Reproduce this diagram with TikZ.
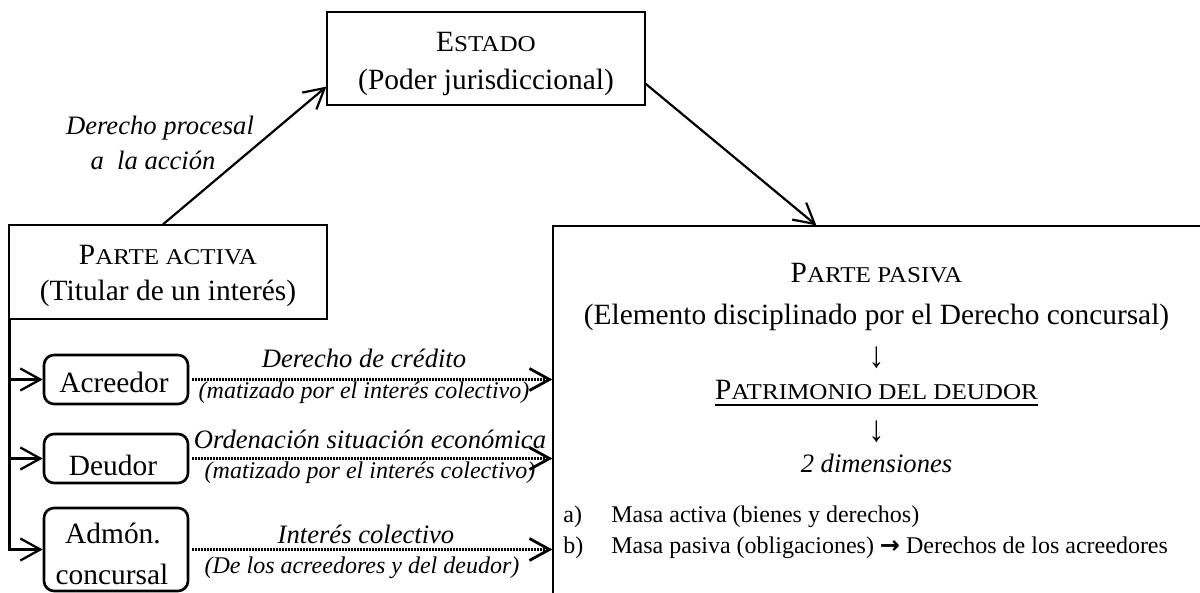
\documentclass[tikz,border=0pt]{standalone}
\usepackage{fontspec}
\usepackage{graphicx}
\setmainfont{Liberation Serif}
\newfontfamily\djv{DejaVu Sans}
\usetikzlibrary{arrows.meta,calc}
\newcommand\fsc[1]{\scalebox{1.11}[1]{\fontsize{11.3pt}{11.3pt}\selectfont #1}}
\newcommand\mainsz{\fontsize{14.7pt}{17pt}\selectfont}
\newcommand\labsz{\fontsize{13.3pt}{15pt}\selectfont}
\newcommand\subsz{\fontsize{12pt}{14pt}\selectfont}
\newcommand\darr{\scalebox{1.1}[1.25]{↓}}
\tikzset{
  box/.style={draw, line width=0.65pt, inner sep=0pt},
  rbox/.style={draw, line width=1.3pt, rounded corners=5pt, minimum width=72pt, inner sep=0pt},
  txt/.style={inner sep=0pt, anchor=base, font=\mainsz},
  lab/.style={inner sep=0pt, anchor=base, font=\labsz\itshape},
  sublab/.style={inner sep=0pt, anchor=base, font=\subsz\itshape},
  item/.style={inner sep=0pt, anchor=base west, font=\subsz},
  conn/.style={line width=1.1pt, -{Straight Barb[length=10pt,width=11pt]}},
  branch/.style={line width=1.15pt, -{Straight Barb[length=10pt,width=11pt]}},
  dotarrow/.style={line width=1.15pt, dash pattern=on 0.7pt off 0.8pt,
    -{Straight Barb[length=10pt,width=11pt,line width=1.4pt]}},
}
\begin{document}
\begin{tikzpicture}[x=0.5pt,y=-0.5pt]
\useasboundingbox (0,0) rectangle (1200,593);
\clip (0,0) rectangle (1200,593);

% Estado
\node[box, minimum width=159pt, minimum height=46.5pt] (estado) at (486,58.5) {};
\node[txt] (estado1) at (486,52) {E\fsc{STADO}};
\node[txt] (estado2) at (486,90) {(Poder jurisdiccional)};

% Parte activa
\node[box, minimum width=159pt, minimum height=47pt] (pa) at (168,272) {};
\node[txt] (pa1) at (168,265) {P\fsc{ARTE ACTIVA}};
\node[txt] (pa2) at (168,301) {(Titular de un interés)};

% Parte pasiva
\node[box, minimum width=353.5pt, minimum height=212pt] (pp) at (906.5,438) {};
\node[txt] (pp1) at (876.5,283) {P\fsc{ARTE PASIVA}};
\node[txt] (pp2) at (876.5,325) {(Elemento disciplinado por el Derecho concursal)};
\node[txt] (pp3) at (876.5,368) {\darr};
\node[txt] (pp4) at (876.5,400) {P\fsc{ATRIMONIO DEL DEUDOR}};
\draw[line width=0.75pt] ([yshift=-2.6pt]pp4.base west) -- ([yshift=-2.6pt]pp4.base east);
\node[txt] (pp5) at (876.5,441) {\darr};
\node[lab] (pp6) at (876.5,473) {2 dimensiones};
\node[item] (a1) at (563,522) {a)};
\node[item] (a2) at (611,522) {Masa activa (bienes y derechos)};
\node[item] (b1) at (563,553) {b)};
\node[item] (b2) at (611,553) {Masa pasiva (obligaciones) {\djv\bfseries →} Derechos de los acreedores};

% Rounded boxes
\node[rbox, minimum height=24.5pt] (ac) at (116,379.5) {};
\node[txt] (ac1) at (114,393) {Acreedor};
\node[rbox, minimum height=24.5pt] (de) at (116,458.5) {};
\node[txt] (de1) at (113,475) {Deudor};
\node[rbox, minimum height=41.5pt] (ad) at (116,549.5) {};
\node[txt] (ad1) at (113,543) {Admón.};
\node[txt] (ad2) at (112,584) {concursal};

% Top connectors
\draw[conn] (pa.96) -- (estado.190);
\node[lab] (dp1) at (160,135) {Derecho procesal};
\node[lab] (dp2) at (153,170) {a\ \ la acción};
\draw[conn] (estado.-9.4) -- ([xshift=132pt]pp.north west);

% Branches
\draw[branch] ([xshift=0.5pt]pa.south west) |- (ad.west);
\draw[branch] ([xshift=0.5pt]pa.south west |- ac.west) -- (ac.west);
\draw[branch] ([xshift=0.5pt]pa.south west |- de.west) -- (de.west);

% Dotted connectors
\draw[dotarrow] ([xshift=1.5pt]ac.east) -- (pp.west |- ac.east);
\draw[dotarrow] ([xshift=1.5pt]de.east) -- (pp.west |- de.east);
\draw[dotarrow] ([xshift=1.5pt]ad.east) -- (pp.west |- ad.east);

\node[lab] (l1a) at (364,367) {Derecho de crédito};
\node[sublab] (l1b) at (364,399) {(matizado por el interés colectivo)};
\node[lab] (l2a) at (370,448) {Ordenación situación económica};
\node[sublab] (l2b) at (370,478) {(matizado por el interés colectivo)};
\node[lab] (l3a) at (366,543) {Interés colectivo};
\node[sublab] (l3b) at (362,573) {(De los acreedores y del deudor)};
\end{tikzpicture}
\end{document}
